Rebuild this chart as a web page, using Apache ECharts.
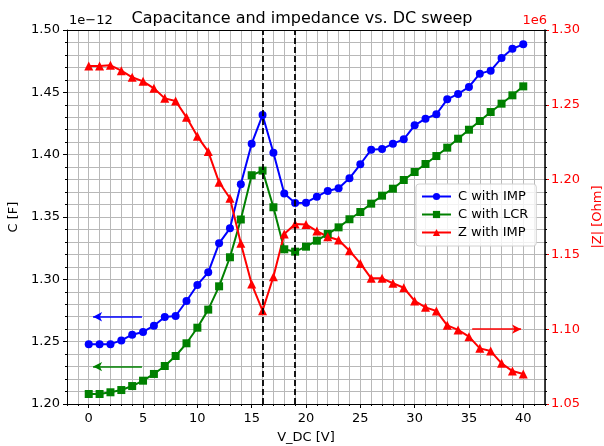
<!DOCTYPE html>
<html>
<head>
<meta charset="utf-8">
<script src="https://cdn.jsdelivr.net/npm/echarts@6.0.0/dist/echarts.min.js"></script>
<style>
  html, body { margin: 0; padding: 0; background: #fff; }
  #chart { width: 604px; height: 446px; }
</style>
</head>
<body>
<div id="chart"></div>
<script>
// DC bias sweep [V]
const vdc = [0, 1, 2, 3, 4, 5, 6, 7, 8, 9, 10, 11, 12, 13, 14, 15, 16, 17, 18, 19, 20,
  21, 22, 23, 24, 25, 26, 27, 28, 29, 30, 31, 32, 33, 34, 35, 36, 37, 38, 39, 40]
// capacitance, in units of 1e-12 F
const cImp = [1.248, 1.248, 1.248, 1.251, 1.2556, 1.2578, 1.2628, 1.2698, 1.2706, 1.2826, 1.2955,
  1.3056, 1.3289, 1.3409, 1.3762, 1.4088, 1.4318, 1.4015, 1.3689, 1.3612, 1.3615,
  1.3663, 1.3709, 1.373, 1.381, 1.3923, 1.404, 1.4045, 1.4088, 1.4123, 1.4235,
  1.4289, 1.4324, 1.4444, 1.4487, 1.4543, 1.465, 1.4674, 1.4775, 1.485, 1.4885]
const cLcr = [1.208, 1.208, 1.2094, 1.2112, 1.2144, 1.2187, 1.2241, 1.2305, 1.2385, 1.2487, 1.2612,
  1.2757, 1.2944, 1.3177, 1.348, 1.3835, 1.3872, 1.3578, 1.3241, 1.3222, 1.3262,
  1.331, 1.3364, 1.3417, 1.3482, 1.354, 1.3607, 1.3671, 1.3727, 1.3797, 1.3861,
  1.3925, 1.3989, 1.4056, 1.4128, 1.42, 1.427, 1.4342, 1.4409, 1.4476, 1.4548]
// |Z|, in units of 1e6 Ohm
const zImp = [1.2759, 1.2759, 1.2764, 1.2728, 1.2684, 1.2657, 1.261, 1.2543, 1.2525, 1.2416, 1.2289,
  1.2187, 1.1982, 1.1875, 1.1574, 1.1302, 1.1124, 1.1351, 1.1636, 1.1703, 1.17,
  1.1656, 1.1618, 1.1596, 1.1525, 1.144, 1.134, 1.134, 1.1307, 1.1277, 1.1189,
  1.1146, 1.1122, 1.1026, 1.0995, 1.095, 1.0872, 1.0854, 1.0772, 1.072, 1.0701]

const xTicks = [0, 5, 10, 15, 20, 25, 30, 35, 40]
const cTicks = [1.20, 1.25, 1.30, 1.35, 1.40, 1.45, 1.50]
const zTicks = [1.05, 1.10, 1.15, 1.20, 1.25, 1.30]
// dashed markers at the peak / dip
const vMarks = [16, 19]

const FONT = 'DejaVu Sans'
const pairs = (ys) => vdc.map((v, i) => [v, ys[i]])

let myChart = echarts.init(document.getElementById('chart'), null, { renderer: 'canvas' })

const gridColor = '#b8b8b8'
// arrow from a to b, head at b
const arrowLine = (a, b, color) => [
  { coord: a, symbol: 'none', lineStyle: { color: color, width: 1.5, type: 'solid' } },
  { coord: b, symbol: 'arrow', symbolSize: [7, 9] }
]

let option = {
  animation: false,
  textStyle: { fontFamily: FONT },
  title: [
    { text: 'Capacitance and impedance vs. DC sweep', left: 297, top: 6, textAlign: 'center',
      textStyle: { fontFamily: FONT, fontSize: 16, fontWeight: 'normal', color: '#000' } },
    { text: '1e\u221212', left: 64, top: 9,
      textStyle: { fontFamily: FONT, fontSize: 13, fontWeight: 'normal', color: '#000' } },
    { text: '1e6', left: 542, top: 9, textAlign: 'right',
      textStyle: { fontFamily: FONT, fontSize: 13, fontWeight: 'normal', color: '#ff0000' } }
  ],
  grid: { left: 67, right: 59, top: 30, bottom: 42, containLabel: false, outerBoundsMode: 'none' },
  legend: {
    orient: 'vertical',
    left: 416, top: 184,
    padding: [6, 8, 7, 5],
    itemGap: 5,
    itemWidth: 29,
    itemHeight: 9,
    backgroundColor: 'rgba(255,255,255,0.8)',
    borderColor: '#d0d0d0',
    borderWidth: 1,
    borderRadius: 3,
    textStyle: { fontFamily: FONT, fontSize: 13, color: '#000', padding: [0, 0, 0, 2] },
    data: ['C with IMP', 'C with LCR', 'Z with IMP']
  },
  xAxis: [
    { // grid + minor ticks + labels
      type: 'value', position: 'bottom', min: -2, max: 42, interval: 1,
      name: 'V_DC [V]', nameLocation: 'middle', nameGap: 27,
      nameTextStyle: { fontFamily: FONT, fontSize: 13, color: '#000' },
      axisLine: { show: true, onZero: false, lineStyle: { color: '#000', width: 1 } },
      axisTick: { show: true, length: 2, lineStyle: { color: '#000' } },
      axisLabel: { customValues: xTicks, fontFamily: FONT, fontSize: 13, color: '#000', margin: 8 },
      splitLine: { show: true, lineStyle: { color: gridColor, width: 1 } }
    },
    { // major ticks
      type: 'value', position: 'bottom', min: -2, max: 42,
      axisLine: { show: false, onZero: false },
      axisTick: { show: true, customValues: xTicks, length: 4, lineStyle: { color: '#000' } },
      axisLabel: { show: false },
      splitLine: { show: false }
    },
    { // top spine
      type: 'value', position: 'top', min: -2, max: 42, interval: 1,
      axisLine: { show: true, onZero: false, lineStyle: { color: '#000', width: 1 } },
      axisTick: { show: false },
      axisLabel: { show: false },
      splitLine: { show: false }
    }
  ],
  yAxis: [
    { // left: grid + minor ticks + labels
      type: 'value', position: 'left', min: 1.2, max: 1.5, interval: 0.01,
      name: 'C [F]', nameLocation: 'middle', nameGap: 44, nameRotate: 90,
      nameTextStyle: { fontFamily: FONT, fontSize: 13, color: '#000' },
      axisLine: { show: true, onZero: false, lineStyle: { color: '#000', width: 1 } },
      axisTick: { show: true, length: 2, lineStyle: { color: '#000' } },
      axisLabel: { customValues: cTicks, formatter: v => v.toFixed(2),
        fontFamily: FONT, fontSize: 13, color: '#000', margin: 7 },
      splitLine: { show: true, lineStyle: { color: gridColor, width: 1 } }
    },
    { // left major ticks
      type: 'value', position: 'left', min: 1.2, max: 1.5,
      axisLine: { show: false, onZero: false },
      axisTick: { show: true, customValues: cTicks, length: 4, lineStyle: { color: '#000' } },
      axisLabel: { show: false },
      splitLine: { show: false }
    },
    { // right: |Z|
      type: 'value', position: 'right', min: 1.05, max: 1.30, interval: 0.05,
      name: '|Z| [Ohm]', nameLocation: 'middle', nameGap: 45, nameRotate: 90,
      nameTextStyle: { fontFamily: FONT, fontSize: 13, color: '#ff0000' },
      axisLine: { show: true, onZero: false, lineStyle: { color: '#000', width: 1.5 } },
      axisTick: { show: true, length: 4, lineStyle: { color: '#ff0000' } },
      axisLabel: { formatter: v => v.toFixed(2), fontFamily: FONT, fontSize: 13, color: '#ff0000', margin: 6 },
      splitLine: { show: false }
    },
    { // right minor ticks
      type: 'value', position: 'right', min: 1.2, max: 1.5, interval: 0.01,
      axisLine: { show: false, onZero: false },
      axisTick: { show: true, length: 2, lineStyle: { color: '#000' } },
      axisLabel: { show: false },
      splitLine: { show: false }
    }
  ],
  series: [
    {
      name: 'C with IMP', type: 'line', xAxisIndex: 0, yAxisIndex: 0,
      data: pairs(cImp),
      color: '#0000ff',
      symbol: 'circle', symbolSize: 8, showSymbol: true,
      lineStyle: { width: 2 },
      z: 3,
      markLine: {
        silent: true,
        animation: false,
        symbol: ['none', 'none'],
        label: { show: false },
        data: [
          arrowLine([4.9, 1.27], [0.4, 1.27], '#0000ff'),
          arrowLine([4.9, 1.23], [0.4, 1.23], '#008000'),
          ...vMarks.map(v => ({ xAxis: v,
            lineStyle: { color: '#000', width: 1.8, type: [6, 3] } }))
        ]
      }
    },
    {
      name: 'C with LCR', type: 'line', xAxisIndex: 0, yAxisIndex: 0,
      data: pairs(cLcr),
      color: '#008000',
      symbol: 'rect', symbolSize: 8, showSymbol: true,
      lineStyle: { width: 2 },
      z: 3
    },
    {
      name: 'Z with IMP', type: 'line', xAxisIndex: 0, yAxisIndex: 2,
      data: pairs(zImp),
      color: '#ff0000',
      symbol: 'triangle', symbolSize: 9, showSymbol: true,
      lineStyle: { width: 2 },
      z: 3,
      markLine: {
        silent: true,
        animation: false,
        symbol: ['none', 'none'],
        label: { show: false },
        data: [
          arrowLine([35.3, 1.10], [39.8, 1.10], '#ff0000')
        ]
      }
    }
  ]
}

myChart.setOption(option)
window.onresize = function () {
  myChart.resize()
}
</script>
</body>
</html>
